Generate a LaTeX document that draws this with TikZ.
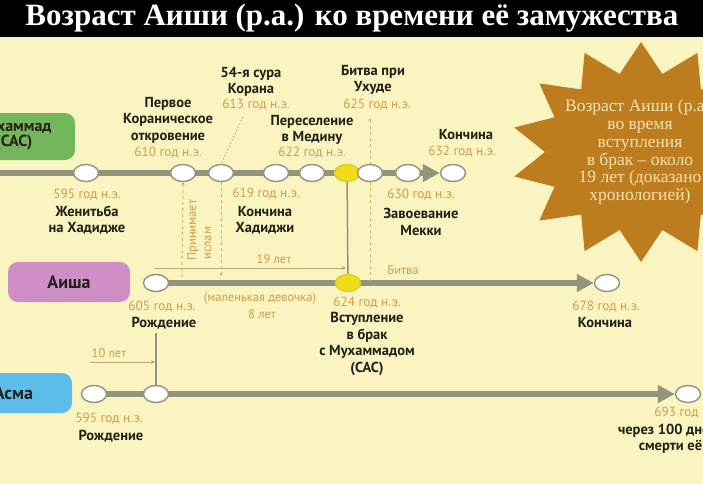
\documentclass[tikz,border=0pt]{standalone}
\usepackage{fontspec}
\setmainfont{PT Sans}
\newfontfamily\seriff{Liberation Serif}
\usetikzlibrary{arrows.meta,shapes.geometric}
\definecolor{bg}{HTML}{FAF4C0}
\definecolor{barc}{HTML}{94937E}
\definecolor{yr}{HTML}{D09C48}
\definecolor{grn}{HTML}{74B65C}
\definecolor{pnk}{HTML}{CE8FC6}
\definecolor{blu}{HTML}{5CBDEA}
\definecolor{starc}{HTML}{BD7C1E}
\definecolor{startxt}{HTML}{F7E4B3}
\definecolor{yel}{HTML}{EEDD18}
\definecolor{thinc}{HTML}{B9A774}
\definecolor{dashc}{HTML}{D2B171}
\definecolor{lbl}{HTML}{222018}
\begin{document}
\begin{tikzpicture}[x=1pt,y=-1pt,
  title/.style={text=white,font=\seriff\bfseries\fontsize{31}{33}\selectfont,inner sep=0},
  startext/.style={text=startxt,font=\seriff\fontsize{17.5}{17.8}\selectfont,align=center,inner sep=0},
  lab/.style={text=lbl,font=\bfseries\fontsize{14.5}{16.5}\selectfont,align=center,inner sep=0},
  yrs/.style={text=yr,font=\fontsize{13.3}{15}\selectfont,inner sep=0},
  small/.style={text=yr,font=\fontsize{12.5}{14}\selectfont,inner sep=0},
  namebox/.style={rounded corners=10pt,inner sep=0,font=\bfseries\fontsize{18}{16}\selectfont,align=center,text=lbl},
  circ/.style={ellipse,draw=barc,line width=1.4pt,fill=white,minimum width=25pt,minimum height=17pt,inner sep=0},
  ycirc/.style={circ,fill=yel,draw=yel!80!barc},
  bar/.style={draw=barc,line width=6pt},
  bararrow/.style={bar,-{Triangle[length=17pt,width=17pt]}},
  conn/.style={draw=barc,line width=1.5pt},
  thinarrow/.style={draw=thinc,line width=1pt,-{Stealth[length=4pt,width=4pt]}},
  dashl/.style={draw=dashc,line width=1pt,dash pattern=on 3pt off 3pt},
  dotl/.style={draw=dashc,line width=1pt,dash pattern=on 1.5pt off 2pt}
]
\useasboundingbox (0,0) rectangle (703,484);
\clip (0,0) rectangle (703,484);
\fill[bg] (0,0) rectangle (703,484);
\fill[black] (0,0) rectangle (703,37);
\node[title] (ttl) at (352,18) {Возраст Аиши (р.а.) ко времени её замужества};

% star
\begin{scope}[shift={(641,152)}]
\fill[starc] (90:110 and 110) \foreach \i in {1,...,27}{ -- ({90+\i*360/28}:{ifthenelse(mod(\i,2)==0,130,96)} and {ifthenelse(mod(\i,2)==0,110,80)}) } -- cycle;
\end{scope}
\node[startext] (startx) at (640,152) {Возраст Аиши (р.а.)\\во время\\вступления\\в брак – около\\19 лет (доказано\\хронологией)};

% name boxes
\node[namebox,fill=grn,minimum width=110pt,minimum height=47pt] (mbox) at (20,136.5) {};
\node[text=lbl,font=\bfseries\fontsize{16}{15}\selectfont,align=center,inner sep=0] (mtxt) at (14,135) {Мухаммад\\(САС)};
\node[namebox,fill=pnk,minimum width=122pt,minimum height=40pt] (abox) at (69,282) {Аиша};
\node[namebox,fill=blu,minimum width=117pt,minimum height=40pt] (sbox) at (13.5,393) {Асма};

% coordinates
\coordinate (mstart) at (0,173);
\coordinate (c595) at (86,173);
\coordinate (c610) at (183,173);
\coordinate (c613) at (221,173);
\coordinate (c619) at (276,173);
\coordinate (c622) at (312,173);
\coordinate (c624) at (347,173);
\coordinate (c625) at (370,173);
\coordinate (c630) at (408,173);
\coordinate (c632) at (453,173);
\coordinate (ca605) at (156,283);
\coordinate (ca624) at (348,283);
\coordinate (ca678) at (607,283);
\coordinate (cs595) at (94,394);
\coordinate (cs605) at (156,394);
\coordinate (cs693) at (688,394);

% thin connectors (behind)
\coordinate (vtop) at (156,333);
\draw[conn] (vtop) -- (cs605);
\draw[conn] (c624) -- (ca624);

% bars
\node[circ] (m632) at (c632) {};
\node[circ] (a678) at (ca678) {};
\node[circ] (s693) at (cs693) {};
\draw[bararrow] (mstart) -- (m632.west);
\draw[bararrow] (ca605) -- (a678.west);
\draw[bararrow] (cs595) -- (s693.west);

% circles
\node[circ] (m595) at (c595) {};
\node[circ] (m610) at (c610) {};
\node[circ] (m613) at (c613) {};
\node[circ] (m619) at (c619) {};
\node[circ] (m622) at (c622) {};
\node[ycirc] (m624) at (c624) {};
\node[circ] (m625) at (c625) {};
\node[circ] (m630) at (c630) {};
\node[circ] (a605) at (ca605) {};
\node[ycirc] (a624) at (ca624) {};
\node[circ] (s595) at (cs595) {};
\node[circ] (s605) at (cs605) {};

% dashed guides
\coordinate (d610b) at (182,279);
\draw[dashl,{Stealth[length=3pt,width=3pt]}-] (m610.south) -- (d610b);
\coordinate (d613b) at (221,276);
\draw[dashl,-{Stealth[length=3pt,width=3pt]}] (m613.south) -- (d613b);
\coordinate (d613t) at (243,117);
\draw[dotl] (d613t) -- (m613.north);
\coordinate (d625t) at (370,118);
\draw[dashl,{Stealth[length=3pt,width=3pt]}-] (d625t) -- (m625.north);
\coordinate (d625b) at (370,281);
\draw[dashl] (m625.south) -- (d625b);

% age arrows
\coordinate (a19s) at (155,268);
\coordinate (a19e) at (346,268);
\draw[thinarrow] (a19s) -- (a19e);
\node[small] (l19) at (274,259) {19 лет};
\coordinate (a10s) at (90,362);
\coordinate (a10e) at (155,362);
\draw[thinarrow] (a10s) -- (a10e);
\node[small] (l10) at (109,353) {10 лет};

% rotated text
\node[small,rotate=90,anchor=west] (prin) at (193,261) {Принимает};
\node[small,rotate=90,anchor=west] (isl) at (208,260) {ислам};

% Muhammad labels above
\node[lab] (t610) at (168,120) {Первое\\Кораническое\\откровение};
\node[yrs] (y610) at (168,153) {610 год н.э.};
\node[lab] (t613) at (251,82) {54-я сура\\Корана};
\node[yrs] (y613) at (256,105) {613 год н.э.};
\node[lab] (t625) at (373,80) {Битва при\\Ухуде};
\node[yrs] (y625) at (377,105) {625 год н.э.};
\node[lab] (t622) at (312,130) {Переселение\\в Медину};
\node[yrs] (y622) at (312,153) {622 год н.э.};
\node[lab] (t632) at (466,135) {Кончина};
\node[yrs] (y632) at (462,152) {632 год н.э.};
% below
\node[yrs] (y595) at (87,195) {595 год н.э.};
\node[lab] (t595) at (87,220) {Женитьба\\на Хадидже};
\node[yrs] (y619) at (266,194) {619 год н.э.};
\node[lab] (t619) at (265,220) {Кончина\\Хадиджи};
\node[yrs] (y630) at (421,195) {630 год н.э.};
\node[lab] (t630) at (421,222) {Завоевание\\Мекки};

% Aisha labels
\node[yrs] (y605) at (162,307) {605 год н.э.};
\node[lab] (t605) at (164,323) {Рождение};
\node[small] (girl) at (260,298) {(маленькая девочка)};
\node[small] (age8) at (262,314) {8 лет};
\node[yrs] (y624) at (367,303) {624 год н.э.};
\node[lab] (t624) at (367,344) {Вступление\\в брак\\с Мухаммадом\\(САС)};
\node[small] (bitva) at (403,270) {Битва};
\node[yrs] (y678) at (606,307) {678 год н.э.};
\node[lab] (t678) at (605,323) {Кончина};

% Asma labels
\node[yrs] (y595s) at (109,419) {595 год н.э.};
\node[lab] (t595s) at (111,436) {Рождение};
\node[yrs] (y693) at (688,413) {693 год н.э.};
\node[lab] (t693) at (688,439) {через 100 дней после\\смерти её сына};
\end{tikzpicture}
\end{document}
